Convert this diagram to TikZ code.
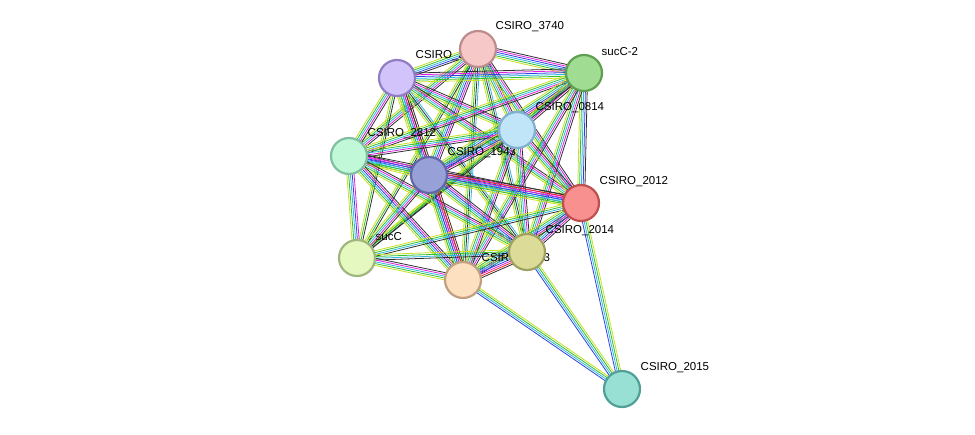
\documentclass[tikz,border=0pt]{standalone}
\usepackage{fontspec}
\setmainfont{Liberation Sans}
\usetikzlibrary{calc,backgrounds}
\pgfdeclarelayer{lab}
\pgfsetlayers{background,lab,main}
\definecolor{cY}{HTML}{C8E020}
\definecolor{cG}{HTML}{30C030}
\definecolor{cC}{HTML}{30B8E0}
\definecolor{cB}{HTML}{3040E8}
\definecolor{cM}{HTML}{E020E0}
\definecolor{cK}{HTML}{303030}
\definecolor{cR}{HTML}{F02020}
\newcommand\edg[4]{\foreach \c [count=\i] in {#4} {\pgfmathsetmacro\o{(\i-(#3+1)/2)*1.8}
 \draw[\c,line width=0.8pt] ($(#1)!\o pt!90:(#2)$) -- ($(#2)!\o pt!-90:(#1)$);}}
\tikzset{prot/.style={circle,draw,line width=2.2pt,minimum size=36pt,inner sep=0pt},
 lbl/.style={anchor=west,inner sep=0.5pt,font=\fontsize{11.5}{13}\selectfont}}
\begin{document}
\begin{tikzpicture}[x=1pt,y=-1pt]
\useasboundingbox (0,0) rectangle (975,435);
\node[prot,fill={rgb,255:red,247;green,200;blue,200},draw={rgb,255:red,190;green,140;blue,140}] (a) at (478,49) {};
\node[prot,fill={rgb,255:red,210;green,196;blue,250},draw={rgb,255:red,145;green,125;blue,195}] (b) at (397,78) {};
\node[prot,fill={rgb,255:red,160;green,220;blue,145},draw={rgb,255:red,95;green,160;blue,80}] (c) at (584,73) {};
\node[prot,fill={rgb,255:red,192;green,228;blue,248},draw={rgb,255:red,130;green,176;blue,208}] (d) at (517,130) {};
\node[prot,fill={rgb,255:red,192;green,248;blue,216},draw={rgb,255:red,128;green,192;blue,160}] (e) at (349,156) {};
\node[prot,fill={rgb,255:red,152;green,160;blue,216},draw={rgb,255:red,96;green,104;blue,168}] (f) at (429,175) {};
\node[prot,fill={rgb,255:red,248;green,144;blue,144},draw={rgb,255:red,192;green,80;blue,80}] (g) at (581,203) {};
\node[prot,fill={rgb,255:red,220;green,220;blue,152},draw={rgb,255:red,160;green,160;blue,96}] (h) at (527,252) {};
\node[prot,fill={rgb,255:red,228;green,248;blue,192},draw={rgb,255:red,160;green,184;blue,128}] (i) at (357,258) {};
\node[prot,fill={rgb,255:red,253;green,224;blue,192},draw={rgb,255:red,192;green,160;blue,128}] (j) at (463,280) {};
\node[prot,fill={rgb,255:red,152;green,224;blue,212},draw={rgb,255:red,80;green,160;blue,152}] (k) at (622,389) {};
\begin{pgfonlayer}{lab}
\node[lbl] (la) at (495,27) {CSIRO\_3740};
\node[lbl] (lb) at (415,56) {CSIRO\_3739};
\node[lbl] (lc) at (601,52) {sucC-2};
\node[lbl] (ld) at (535,108) {CSIRO\_0814};
\node[lbl] (le) at (367,134) {CSIRO\_2812};
\node[lbl] (lf) at (447,153) {CSIRO\_1943};
\node[lbl] (lg) at (599,182) {CSIRO\_2012};
\node[lbl] (lh) at (545,231) {CSIRO\_2014};
\node[lbl] (li) at (375,237) {sucC};
\node[lbl] (lj) at (481,259) {CSIRO\_2013};
\node[lbl] (lk) at (640,368) {CSIRO\_2015};
\end{pgfonlayer}
\begin{pgfonlayer}{background}
\fill[white] (0,0) rectangle (975,435);
\edg{a}{b}{5}{cY,cG,cC,cB,cK}
\edg{a}{c}{6}{cY,cG,cC,cB,cM,cK}
\edg{a}{d}{5}{cY,cG,cC,cM,cK}
\edg{a}{e}{5}{cY,cG,cC,cM,cK}
\edg{a}{f}{6}{cY,cG,cC,cB,cM,cK}
\edg{a}{g}{5}{cY,cG,cC,cM,cK}
\edg{a}{h}{4}{cY,cG,cK,cC}
\edg{a}{i}{3}{cY,cG,cK}
\edg{a}{j}{4}{cY,cG,cK,cC}
\edg{b}{c}{6}{cY,cG,cC,cB,cM,cK}
\edg{b}{d}{5}{cY,cG,cC,cM,cK}
\edg{b}{e}{5}{cY,cG,cC,cM,cK}
\edg{b}{f}{7}{cY,cG,cC,cB,cM,cR,cK}
\edg{b}{g}{5}{cY,cG,cC,cM,cK}
\edg{b}{h}{4}{cY,cG,cK,cC}
\edg{b}{i}{3}{cY,cG,cK}
\edg{b}{j}{5}{cY,cG,cC,cM,cK}
\edg{c}{d}{5}{cY,cG,cC,cM,cK}
\edg{c}{e}{5}{cY,cG,cC,cM,cK}
\edg{c}{f}{6}{cY,cG,cC,cB,cM,cK}
\edg{c}{g}{5}{cY,cG,cC,cB,cK}
\edg{c}{h}{5}{cY,cG,cC,cM,cK}
\edg{c}{i}{3}{cY,cG,cK}
\edg{c}{j}{5}{cY,cG,cC,cM,cK}
\edg{d}{e}{5}{cY,cG,cC,cM,cK}
\edg{d}{f}{6}{cY,cG,cC,cB,cM,cK}
\edg{d}{g}{5}{cY,cG,cC,cM,cK}
\edg{d}{h}{5}{cY,cG,cC,cM,cK}
\edg{d}{i}{3}{cY,cG,cK}
\edg{d}{j}{5}{cY,cG,cC,cM,cK}
\edg{e}{f}{6}{cY,cG,cC,cB,cM,cK}
\edg{e}{g}{6}{cY,cG,cC,cB,cM,cK}
\edg{e}{h}{5}{cY,cG,cC,cM,cK}
\edg{e}{i}{5}{cY,cG,cC,cB,cM}
\edg{e}{j}{6}{cY,cG,cC,cB,cM,cK}
\edg{f}{g}{7}{cY,cG,cC,cB,cM,cR,cK}
\edg{f}{h}{6}{cY,cG,cC,cB,cM,cK}
\edg{f}{i}{5}{cY,cG,cC,cM,cK}
\edg{f}{j}{7}{cY,cG,cC,cB,cM,cR,cK}
\edg{g}{h}{6}{cY,cG,cC,cB,cM,cK}
\edg{g}{i}{4}{cY,cG,cC,cK}
\edg{g}{j}{6}{cY,cG,cC,cB,cM,cK}
\edg{h}{i}{4}{cY,cG,cC,cK}
\edg{h}{j}{7}{cY,cG,cC,cB,cM,cR,cK}
\edg{i}{j}{5}{cY,cG,cC,cM,cK}
\edg{k}{g}{4}{cY,cG,cC,cB}
\edg{k}{h}{4}{cY,cG,cC,cB}
\edg{k}{j}{4}{cY,cG,cC,cB}
\end{pgfonlayer}
\end{tikzpicture}
\end{document}
